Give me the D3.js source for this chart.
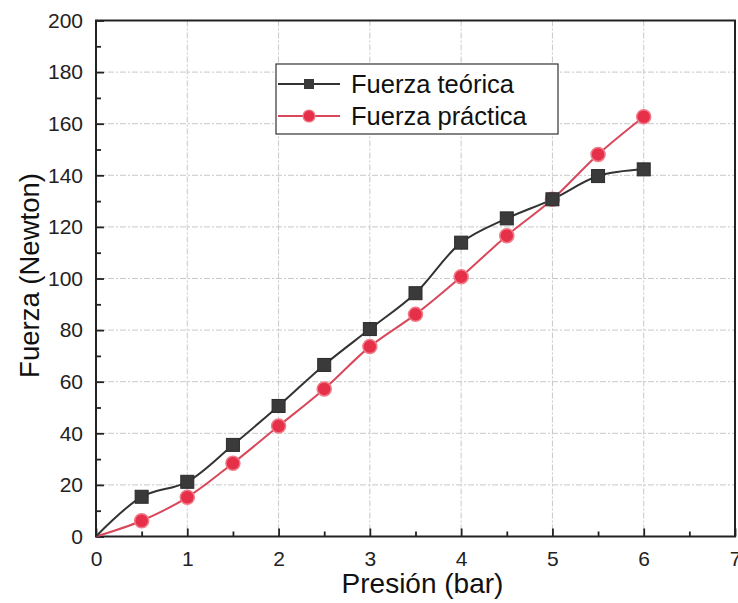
<!DOCTYPE html>
<html>
<head>
<meta charset="utf-8">
<script src="https://cdn.jsdelivr.net/npm/d3@7/dist/d3.min.js"></script>
<style>
  html, body { margin: 0; padding: 0; background: #fff; }
  svg { display: block; font-family: "Liberation Sans", Arial, sans-serif; }
</style>
</head>
<body>
<svg id="chart" width="738" height="603"></svg>
<script>
// Pressure (bar) and measured forces (N)
const presion = [0, 0.5, 1, 1.5, 2, 2.5, 3, 3.5, 4, 4.5, 5, 5.5, 6];
const fuerzaTeorica = [0, 15.4, 21.2, 35.5, 50.6, 66.5, 80.4, 94.3, 113.9, 123.3, 130.7, 139.7, 142.3];
const fuerzaPractica = [0, 6.1, 15.2, 28.4, 42.8, 57.2, 73.6, 86.1, 100.7, 116.6, 130.7, 148.1, 162.7];
const xTicks = [0, 1, 2, 3, 4, 5, 6, 7];
const yTicks = [0, 20, 40, 60, 80, 100, 120, 140, 160, 180, 200];
const seriesNames = ["Fuerza teórica", "Fuerza práctica"];

const svg = d3.select("#chart");
const m = { left: 96, top: 20.5, right: 735, bottom: 536.5 };

const x = d3.scaleLinear().domain([0, 7]).range([m.left, m.right]);
const y = d3.scaleLinear().domain([0, 200]).range([m.bottom, m.top]);

// Grid
const grid = svg.append("g").attr("stroke", "#c8c8c8").attr("stroke-width", 1)
  .attr("stroke-dasharray", "6,2,2,2");
xTicks.slice(1, -1).forEach(t => grid.append("line")
  .attr("x1", x(t)).attr("x2", x(t)).attr("y1", m.top).attr("y2", m.bottom));
yTicks.slice(1, -1).forEach(t => grid.append("line")
  .attr("y1", y(t)).attr("y2", y(t)).attr("x1", m.left).attr("x2", m.right));

// Axes with inward ticks
const xMinor = d3.range(0.5, 7, 1);
const yMinor = d3.range(10, 200, 20);

const xAxis = svg.append("g").attr("transform", `translate(0,${m.bottom})`)
  .call(d3.axisBottom(x).tickValues(xTicks).tickSize(-8).tickPadding(18).tickFormat(d3.format("d")));
svg.append("g").attr("transform", `translate(0,${m.bottom})`)
  .call(d3.axisBottom(x).tickValues(xMinor).tickSize(-5).tickFormat(""))
  .call(g => g.select(".domain").remove());

const yAxis = svg.append("g").attr("transform", `translate(${m.left},0)`)
  .call(d3.axisLeft(y).tickValues(yTicks).tickSize(-8).tickPadding(13).tickFormat(d3.format("d")));
svg.append("g").attr("transform", `translate(${m.left},0)`)
  .call(d3.axisLeft(y).tickValues(yMinor).tickSize(-5).tickFormat(""))
  .call(g => g.select(".domain").remove());

svg.selectAll(".tick line").attr("stroke", "#222").attr("stroke-width", 1.8);
svg.selectAll(".domain").attr("stroke", "none");
svg.selectAll(".tick text").attr("font-size", 21).attr("fill", "#222")
  .attr("font-family", "'Liberation Sans', Arial, sans-serif");
xAxis.selectAll(".tick text").attr("dy", "0.55em");

// Frame
svg.append("rect").attr("x", m.left).attr("y", m.top)
  .attr("width", m.right - m.left).attr("height", m.bottom - m.top)
  .attr("fill", "none").attr("stroke", "#222").attr("stroke-width", 2);

// Axis titles
svg.append("text").attr("x", (m.left + m.right) / 2 + 7).attr("y", 593)
  .attr("text-anchor", "middle").attr("font-size", 28).attr("fill", "#111").text("Presión (bar)");
svg.append("text").attr("transform", `translate(39,${(m.top + m.bottom) / 2 - 3}) rotate(-90)`)
  .attr("text-anchor", "middle").attr("font-size", 27.5).attr("fill", "#111").text("Fuerza (Newton)");

// Series
const line = d3.line().curve(d3.curveCatmullRom.alpha(0.5)).x(d => x(d[0])).y(d => y(d[1]));
const teo = presion.map((p, i) => [p, fuerzaTeorica[i]]);
const pra = presion.map((p, i) => [p, fuerzaPractica[i]]);

svg.append("path").datum(pra).attr("d", line).attr("fill", "none")
  .attr("stroke", "#d9475a").attr("stroke-width", 2);
svg.append("path").datum(teo).attr("d", line).attr("fill", "none")
  .attr("stroke", "#333").attr("stroke-width", 2);

svg.append("g").selectAll("circle").data(pra.slice(1)).join("circle")
  .attr("cx", d => x(d[0])).attr("cy", d => y(d[1])).attr("r", 7)
  .attr("fill", "#e6304a").attr("stroke", "#f07a88").attr("stroke-width", 1.5);
svg.append("g").selectAll("rect").data(teo.slice(1)).join("rect")
  .attr("x", d => x(d[0]) - 6.5).attr("y", d => y(d[1]) - 6.5).attr("width", 13).attr("height", 13)
  .attr("fill", "#3a3a3a").attr("stroke", "#2a2a2a").attr("stroke-width", 1);

// Legend
const lg = svg.append("g");
lg.append("rect").attr("x", 276).attr("y", 64).attr("width", 282).attr("height", 70)
  .attr("fill", "#fff").attr("stroke", "#333").attr("stroke-width", 1.2);
const rows = [
  { name: seriesNames[0], y: 84, color: "#333", shape: "square" },
  { name: seriesNames[1], y: 116, color: "#d9475a", shape: "circle" }
];
rows.forEach(r => {
  lg.append("line").attr("x1", 278).attr("x2", 340).attr("y1", r.y).attr("y2", r.y)
    .attr("stroke", r.color).attr("stroke-width", 2);
  if (r.shape === "square") {
    lg.append("rect").attr("x", 309 - 5).attr("y", r.y - 5).attr("width", 10).attr("height", 10)
      .attr("fill", "#3a3a3a");
  } else {
    lg.append("circle").attr("cx", 309).attr("cy", r.y).attr("r", 6)
      .attr("fill", "#e6304a").attr("stroke", "#f07a88").attr("stroke-width", 1.2);
  }
  lg.append("text").attr("x", 351).attr("y", r.y).attr("dy", "0.35em")
    .attr("font-size", 25.5).attr("fill", "#111").text(r.name);
});
</script>
</body>
</html>
